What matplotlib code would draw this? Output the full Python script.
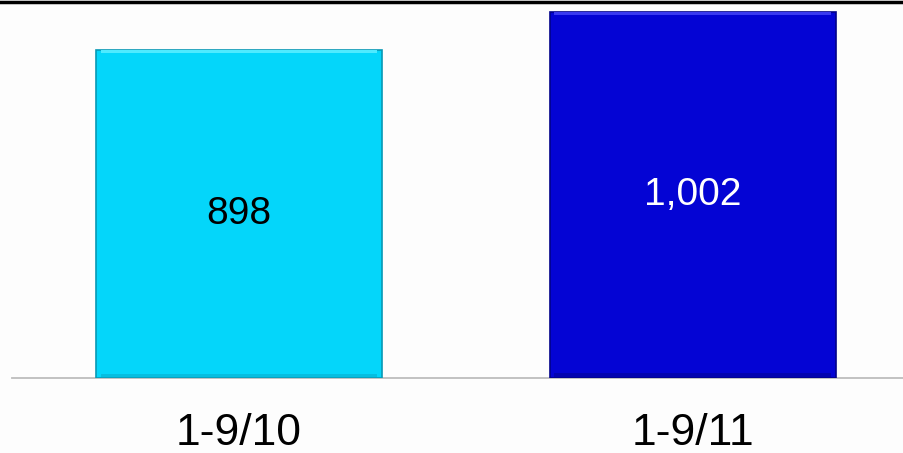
import matplotlib
matplotlib.use("Agg")
import matplotlib.pyplot as plt
from matplotlib.lines import Line2D

categories = ["1-9/10", "1-9/11"]
values = [898, 1002]
value_labels = ["898", "1,002"]
bar_colors = ["#04D6FA", "#0404D4"]
edge_colors = ["#0799B5", "#02028A"]
label_colors = ["#000000", "#FFFFFF"]

W, H = 904, 453
fig = plt.figure(figsize=(W / 100, H / 100), dpi=100)
fig.patch.set_facecolor("#FDFDFD")

ax = fig.add_axes([12 / W, 75 / H, 892 / W, 378 / H])
ax.set_facecolor("none")
x = list(range(len(categories)))
bars = ax.bar(x, values, width=0.63, color=bar_colors, edgecolor=edge_colors,
              linewidth=1.2, zorder=3)
# light top bevel
ax.bar(x, [v * 0.008 for v in values], bottom=[v * 0.992 for v in values],
       width=0.61, color=["#4FEAFF", "#3A3AF0"], linewidth=0, zorder=4)
# darker bottom bevel
ax.bar(x, [v * 0.01 for v in values], bottom=[v * 0.003 for v in values],
       width=0.61, color=["#05BEE0", "#0303B0"], linewidth=0, zorder=4)

ax.set_xlim(-0.5, 1.465)
ax.set_ylim(0, 1035)

for xi, v, lab, c in zip(x, values, value_labels, label_colors):
    ax.text(xi, v / 2, lab, ha="center", va="center", fontsize=28,
            family="Liberation Sans", color=c, zorder=5)

for s in ["top", "right", "left"]:
    ax.spines[s].set_visible(False)
ax.spines["bottom"].set_color("#BDBDBD")
ax.spines["bottom"].set_linewidth(1.3)
ax.set_yticks([])
ax.set_xticks(x)
ax.set_xticklabels(categories, fontsize=32, family="Liberation Sans")
ax.tick_params(axis="x", length=0, pad=25)

# top border line (cropped title area)
fig.add_artist(Line2D([0, 1], [1 - 1.5 / H, 1 - 1.5 / H], color="black",
                      linewidth=2.5, transform=fig.transFigure))

fig.savefig("out.png", dpi=100, facecolor=fig.get_facecolor())
